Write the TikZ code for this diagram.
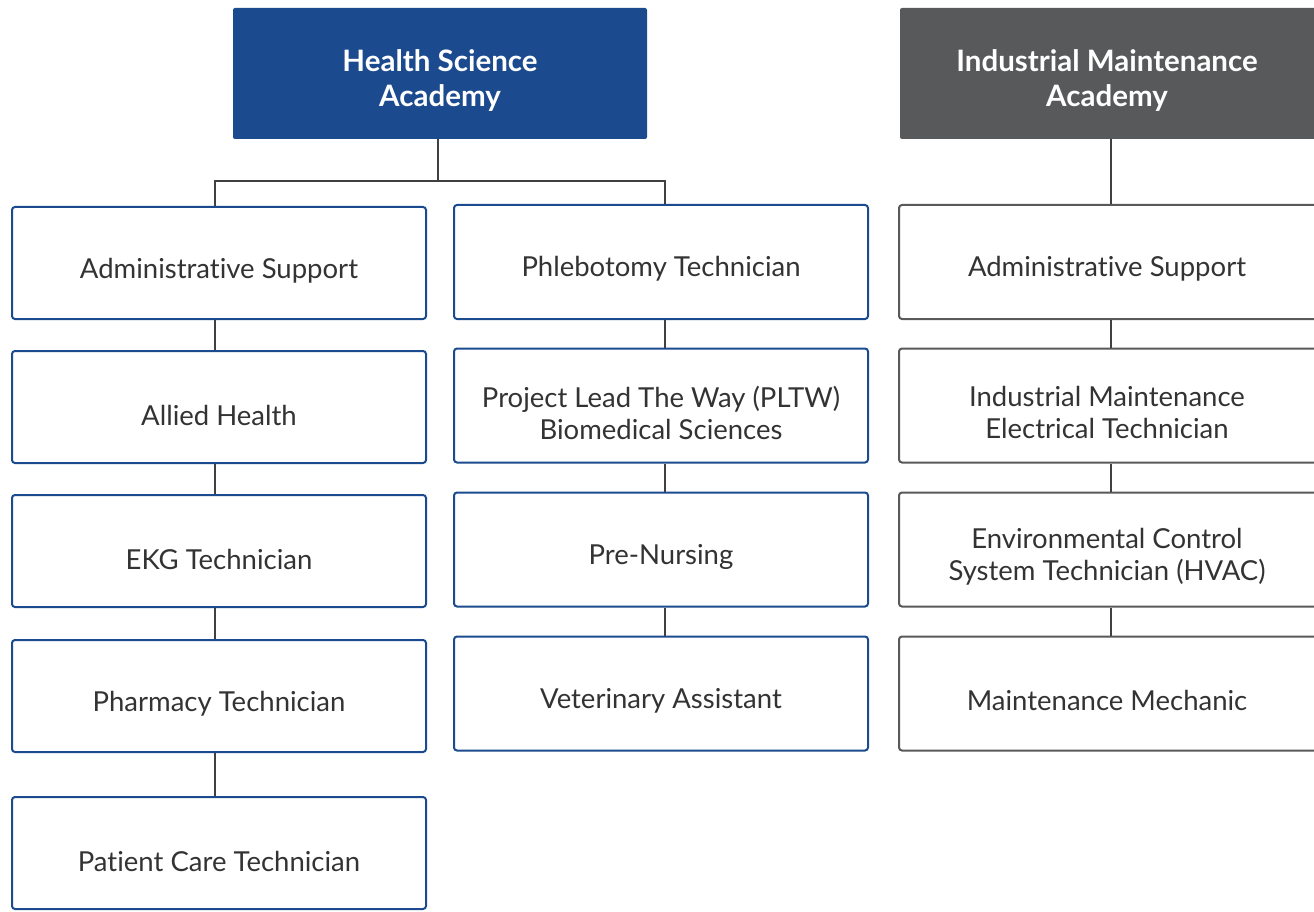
\documentclass[tikz,border=0pt]{standalone}
\usepackage{fontspec}
\setmainfont{Lato}[Ligatures=NoCommon]
\usetikzlibrary{positioning}
\definecolor{hsblue}{HTML}{1B4A8E}
\definecolor{imgray}{HTML}{58595B}
\definecolor{wire}{HTML}{404040}
\definecolor{ink}{HTML}{333333}

\begin{document}
\begin{tikzpicture}[x=1pt,y=-1pt,
    head/.style={rectangle,rounded corners=2pt,minimum width=414pt,minimum height=131pt},
    headtext/.style={align=center,text=white,font=\fontsize{29.5}{35}\selectfont\bfseries},
    card/.style={rectangle,draw,line width=2pt,rounded corners=3pt,fill=white,minimum width=414pt,minimum height=112pt},
    cardtext/.style={align=center,text=ink,font=\fontsize{27.5}{32}\selectfont},
    link/.style={draw=wire,line width=2pt}]
  \useasboundingbox (0,0) rectangle (1314,912);
  \clip (0,0) rectangle (1314,912);
  % academy headers
  \node[head,fill=hsblue] (hsa) at (440,73.5) {};
  \node[head,fill=imgray,minimum width=424pt] (ima) at (1112,73.5) {};
  \node[headtext] (hsa-t) at ([yshift=-7pt]hsa.center) {Health Science\\Academy};
  \node[headtext] (ima-t) at ([yshift=-7pt,xshift=-5pt]ima.center) {Industrial Maintenance\\Academy};
  % health science, first column
  \foreach \n/\y/\lbl in {1/263/Administrative Support,2/407/Allied Health,3/551/EKG Technician,4/696/Pharmacy Technician,5/853/Patient Care Technician}{
    \node[card,draw=hsblue] (hs\n) at (219,\y) {};
    \node[cardtext] (hs\n-t) at ([yshift=-8pt]hs\n.center) {\lbl};}
  % health science, second column
  \foreach \n/\y/\lbl in {1/262/Phlebotomy Technician,2/405.5/{Project Lead The Way (PLTW)\\Biomedical Sciences},3/549.5/Pre-Nursing,4/693.5/Veterinary Assistant}{
    \node[card,draw=hsblue,minimum height=114pt] (pl\n) at (661,\y) {};
    \node[cardtext] (pl\n-t) at ([yshift=-7pt]pl\n.center) {\lbl};}
  % industrial maintenance
  \foreach \n/\y/\lbl in {1/262/Administrative Support,2/405.5/{Industrial Maintenance\\Electrical Technician},3/549.5/{Environmental Control\\System Technician (HVAC)},4/693.5/Maintenance Mechanic}{
    \node[card,draw=imgray,minimum height=114pt,minimum width=424pt] (im\n) at (1111,\y) {};
    \node[cardtext] (im\n-t) at ([yshift=-7pt,xshift=-4pt]im\n.center) {\lbl};}
  % connectors
  \coordinate (fork) at ([yshift=-42pt]hsa.south);
  \draw[link] ([xshift=-2pt]hsa.south) -- ([xshift=-2pt]fork);
  \draw[link] ([xshift=-4pt]hs1.north) |- ([xshift=-2pt]fork) -| ([xshift=4pt]pl1.north);
  \foreach \a/\b in {1/2,2/3,3/4,4/5}{
    \draw[link] ([xshift=-4pt]hs\a.south) -- ([xshift=-4pt]hs\b.north);}
  \foreach \a/\b in {1/2,2/3,3/4}{
    \draw[link] ([xshift=4pt]pl\a.south) -- ([xshift=4pt]pl\b.north);
    \draw[link] (im\a.south) -- (im\b.north);}
  \draw[link] ([xshift=-1pt]ima.south) -- (im1.north);
\end{tikzpicture}
\end{document}
